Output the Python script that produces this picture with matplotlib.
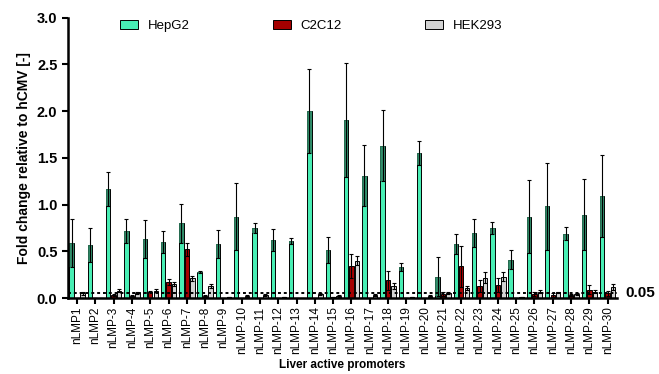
import numpy as np
import matplotlib
matplotlib.use("Agg")
import matplotlib.pyplot as plt

plt.rcParams["font.family"] = ["Liberation Sans", "DejaVu Sans"]

promoters = ["nLMP1", "nLMP2"] + [f"nLMP-{i}" for i in range(3, 31)]

hepg2 = [0.59, 0.57, 1.17, 0.72, 0.63, 0.60, 0.80, 0.28, 0.58, 0.87,
         0.75, 0.62, 0.61, 2.00, 0.51, 1.90, 1.31, 1.63, 0.33, 1.55,
         0.23, 0.58, 0.70, 0.75, 0.41, 0.87, 0.98, 0.69, 0.89, 1.09]
hepg2_sd = [0.26, 0.18, 0.18, 0.13, 0.20, 0.12, 0.21, 0.01, 0.15, 0.36,
            0.05, 0.12, 0.03, 0.45, 0.14, 0.61, 0.33, 0.38, 0.04, 0.13,
            0.21, 0.11, 0.15, 0.06, 0.10, 0.39, 0.47, 0.07, 0.38, 0.44]

c2c12 = [0.005, 0.0, 0.03, 0.02, 0.07, 0.17, 0.52, 0.02, 0.0, 0.0,
         0.0, 0.0, 0.0, 0.0, 0.01, 0.34, 0.0, 0.19, 0.0, 0.0,
         0.04, 0.34, 0.13, 0.14, 0.0, 0.04, 0.03, 0.03, 0.09, 0.05]
c2c12_sd = [0.0, 0.0, 0.01, 0.01, 0.01, 0.03, 0.07, 0.01, 0.0, 0.0,
            0.0, 0.0, 0.0, 0.0, 0.0, 0.13, 0.0, 0.10, 0.0, 0.0,
            0.02, 0.22, 0.06, 0.08, 0.0, 0.02, 0.02, 0.01, 0.05, 0.03]

hek293 = [0.05, 0.0, 0.08, 0.05, 0.08, 0.15, 0.21, 0.13, 0.01, 0.02,
          0.03, 0.01, 0.005, 0.04, 0.02, 0.40, 0.03, 0.13, 0.01, 0.02,
          0.05, 0.11, 0.22, 0.23, 0.01, 0.07, 0.06, 0.04, 0.07, 0.12]
hek293_sd = [0.02, 0.0, 0.02, 0.01, 0.02, 0.02, 0.03, 0.02, 0.0, 0.01,
             0.01, 0.0, 0.0, 0.01, 0.01, 0.05, 0.01, 0.03, 0.0, 0.01,
             0.01, 0.02, 0.06, 0.05, 0.0, 0.02, 0.01, 0.01, 0.02, 0.03]

threshold = 0.05

fig = plt.figure(figsize=(6.59, 3.74), dpi=100)
ax = fig.add_axes([0.103, 0.203, 0.833, 0.750])

x = np.arange(len(promoters))
w = 0.24
series = [
    ("HepG2", hepg2, hepg2_sd, "#48EEB4", -0.3),
    ("C2C12", c2c12, c2c12_sd, "#A50000", 0.0),
    ("HEK293", hek293, hek293_sd, "#D3D3D3", 0.3),
]

for name, vals, sd, col, off in series:
    vals = np.array(vals)
    sd = np.array(sd)
    ax.bar(x + off, vals, w, color=col, edgecolor="black", linewidth=0.7,
           label=name, zorder=2)
    if name == "HepG2":
        # darker band where the lower error bar runs inside the bar
        ax.bar(x + off, sd, w, bottom=vals - sd, color="#2E7D5E",
               edgecolor="none", alpha=0.85, zorder=2.5)
    ax.errorbar(x + off, vals, yerr=sd, fmt="none", ecolor="black",
                elinewidth=0.8, capsize=1.2, capthick=0.8, zorder=3)

ax.axhline(threshold, color="black", linestyle=(0, (1.5, 1.5)),
           linewidth=1.4, zorder=4)
ax.text(1.015, threshold, "0.05", transform=ax.get_yaxis_transform(),
        ha="left", va="center", fontsize=11, fontweight="bold")

ax.set_xlim(-0.5, 29.5)
ax.set_ylim(0, 3.0)
ax.set_yticks(np.arange(0, 3.01, 0.5))
ax.set_yticklabels([f"{v:.1f}" for v in np.arange(0, 3.01, 0.5)],
                   fontsize=10.5, fontweight="bold")
ax.set_xticks(x)
ax.set_xticklabels(promoters, rotation=90, fontsize=8.5)

for s in ["top", "right"]:
    ax.spines[s].set_visible(False)
ax.spines["left"].set_linewidth(1.8)
ax.spines["bottom"].set_linewidth(1.8)
ax.tick_params(axis="y", width=1.5, length=4)
ax.tick_params(axis="x", width=1.5, length=4, pad=2)

ax.set_ylabel("Fold change relative to hCMV [-]", fontsize=10,
              fontweight="bold")
ax.set_xlabel("Liver active promoters", fontsize=8.5, fontweight="bold",
              labelpad=3)

ax.legend(ncol=3, loc="upper left", bbox_to_anchor=(0.074, 1.035),
          frameon=False, fontsize=9.5, columnspacing=6.3, handlelength=1.35,
          handleheight=0.7, handletextpad=0.75)

fig.savefig("out.png", dpi=100)
